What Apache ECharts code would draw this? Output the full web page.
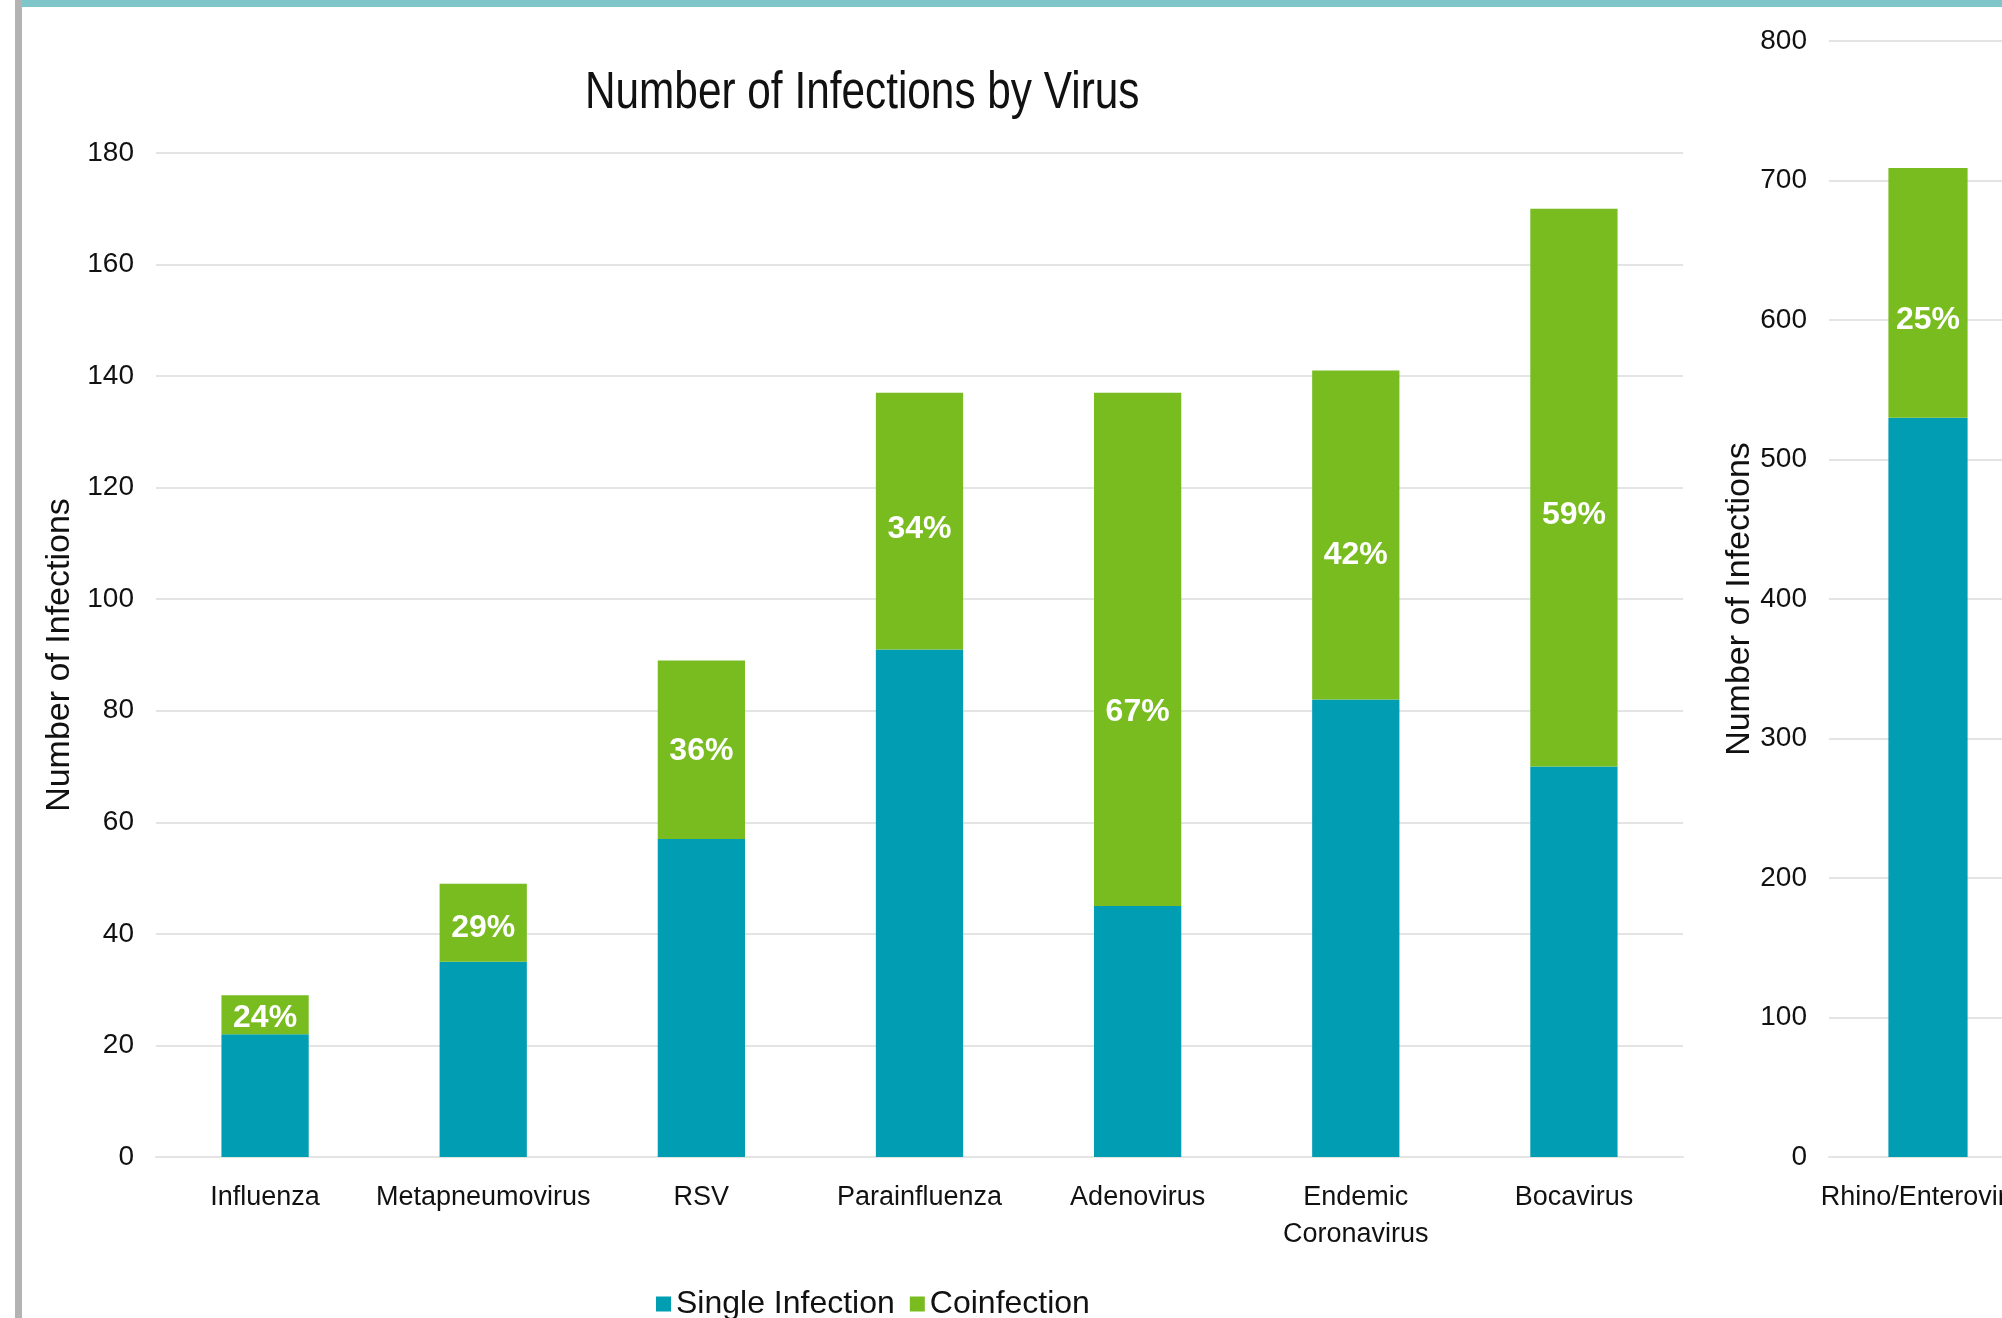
<!DOCTYPE html>
<html lang="en">
<head>
    <meta charset="UTF-8">
    <title>Number of Infections by Virus</title>
    <script src="https://cdn.jsdelivr.net/npm/echarts@6/dist/echarts.min.js"></script>
    <style type="text/css">
        html, body {
            margin: 0;
            padding: 0;
            background: #fff;
        }
        #chart {
            width: 2002px;
            height: 1318px;
        }
    </style>
</head>
<body>
<div id="chart"></div>
<script type="text/javascript">
    // left panel
    var viruses = ['Influenza', 'Metapneumovirus', 'RSV', 'Parainfluenza', 'Adenovirus', 'Endemic\nCoronavirus', 'Bocavirus'];
    var singleInf = [22, 35, 57, 91, 45, 82, 70];
    var coInf = [7, 14, 32, 46, 92, 59, 100];
    var coPct = ['24%', '29%', '36%', '34%', '67%', '42%', '59%'];
    var leftTicks = [0, 180, 20];   // min, max, step

    // right panel (cut off at the edge)
    var rhino = ['Rhino/Enterovirus'];
    var rhinoSingle = [530];
    var rhinoCo = [179];
    var rhinoPct = ['25%'];
    var rightTicks = [0, 800, 100];

    var teal = '#009db3';
    var green = '#78bc20';
    var font = '"Liberation Sans", Arial, sans-serif';
    // the % labels were nudged down by hand in the original, px
    var leftLabelShift = [3, 5, 1, 8, 63, 20, 28];
    var rightLabelShift = [27];

    var chart = echarts.init(document.getElementById('chart'));

    function yAx(idx, t, gap) {
        return {
            type: 'value',
            gridIndex: idx,
            min: t[0],
            max: t[1],
            interval: t[2],
            name: 'Number of Infections',
            nameLocation: 'middle',
            nameGap: gap,
            nameTextStyle: {fontFamily: font, fontSize: 34, color: '#111'},
            axisLine: {show: false},
            axisTick: {show: false},
            axisLabel: {fontFamily: font, fontSize: 28, color: '#111', margin: 22},
            splitLine: {lineStyle: {color: '#e4e4e4', width: 2}}
        };
    }

    function xAx(idx, cats) {
        return {
            type: 'category',
            gridIndex: idx,
            data: cats,
            axisLine: {lineStyle: {color: '#e4e4e4', width: 2}},
            axisTick: {show: false},
            axisLabel: {fontFamily: font, fontSize: 27, color: '#111', margin: 22, lineHeight: 37, interval: 0}
        };
    }

    function pctData(vals, texts, shift) {
        var out = [];
        for (var i = 0; i < vals.length; i++) {
            out.push({
                value: vals[i],
                label: {
                    show: true,
                    position: 'inside',
                    offset: [0, shift[i]],
                    fontFamily: font,
                    fontWeight: 'bold',
                    fontSize: 32,
                    color: '#fff',
                    formatter: texts[i]
                }
            });
        }
        return out;
    }

    var option = {
        animation: false,
        backgroundColor: '#fff',
        legend: {
            data: ['Single Infection', 'Coinfection'],
            left: 651,
            top: 1283,
            icon: 'rect',
            itemWidth: 15,
            itemHeight: 15,
            itemGap: 15,
            textStyle: {fontFamily: font, fontSize: 32, color: '#111'}
        },
        graphic: [
            {type: 'rect', shape: {x: 15, y: 0, width: 7, height: 1318}, style: {fill: '#b3b3b3'}},
            {type: 'rect', shape: {x: 22, y: 0, width: 1980, height: 7}, style: {fill: '#7ec6ca'}},
            // title: condensed face emulated by squeezing the text horizontally
            {
                type: 'text', x: 585, y: 94, scaleX: 0.83,
                style: {
                    text: 'Number of Infections by Virus',
                    font: '51px ' + font,
                    fill: '#111',
                    verticalAlign: 'middle'
                }
            }
        ],
        grid: [
            {left: 156, right: 319, top: 153, bottom: 161, outerBoundsMode: 'none'},
            {left: 1829, right: -25, top: 41, bottom: 161, outerBoundsMode: 'none'}
        ],
        xAxis: [xAx(0, viruses), xAx(1, rhino)],
        yAxis: [yAx(0, leftTicks, 56), yAx(1, rightTicks, 70)],
        series: [
            {
                name: 'Single Infection', type: 'bar', stack: 'a', xAxisIndex: 0, yAxisIndex: 0,
                barWidth: '40%', itemStyle: {color: teal}, data: singleInf
            },
            {
                name: 'Coinfection', type: 'bar', stack: 'a', xAxisIndex: 0, yAxisIndex: 0,
                barWidth: '40%', itemStyle: {color: green}, data: pctData(coInf, coPct, leftLabelShift)
            },
            {
                name: 'Single Infection', type: 'bar', stack: 'b', xAxisIndex: 1, yAxisIndex: 1,
                barWidth: '40%', itemStyle: {color: teal}, data: rhinoSingle
            },
            {
                name: 'Coinfection', type: 'bar', stack: 'b', xAxisIndex: 1, yAxisIndex: 1,
                barWidth: '40%', itemStyle: {color: green}, data: pctData(rhinoCo, rhinoPct, rightLabelShift)
            }
        ]
    };
    chart.setOption(option);
</script>
</body>
</html>
